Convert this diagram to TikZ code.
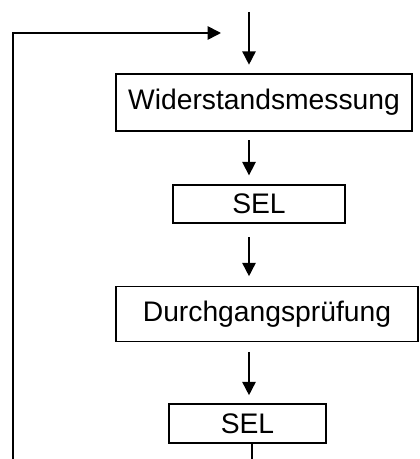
\documentclass[tikz,border=0pt]{standalone}
\usepackage{fontspec}
\setmainfont{Liberation Sans}
\usepackage{tikz}
\usetikzlibrary{arrows.meta,positioning}
\tikzset{
  stepbox/.style={draw=black,line width=1.2pt,inner sep=0pt,font=\fontsize{21.2pt}{25pt}\selectfont},
  widebox/.style={stepbox,minimum height=42.5pt},
  selbox/.style={stepbox,minimum height=28.8pt},
  flowedge/.style={-{Triangle[width=10pt,length=10pt]},line width=1.2pt,black},
  loopedge/.style={line width=1.2pt,black},
}

\begin{document}
\begin{tikzpicture}[x=0.75pt,y=-0.75pt]
  \useasboundingbox (0,0) rectangle (419,459);
  \coordinate (col) at (249,12);
  \coordinate (loopin) at (221,33);
  \coordinate (loopbot) at (13,459);
  \coordinate (outbot) at (252,459);
  \node[widebox,minimum width=222pt] (nW) at (264,102.5) {Widerstandsmessung};
  \node[selbox,minimum width=129pt] (nS1) at (259,204) {SEL};
  \node[widebox,minimum width=226.5pt,minimum height=41.5pt] (nD) at (267,314) {Durchgangsprüfung};
  \node[selbox,minimum width=117.75pt,minimum height=29.25pt] (nS2) at (247.5,423.5) {SEL};
  \draw[flowedge,shorten >=6.5pt] (col) -- (nW.north -| col);
  \draw[flowedge,shorten <=6.5pt,shorten >=6.5pt] (nW.south -| col) -- (nS1.north -| col);
  \draw[flowedge,shorten <=10pt,shorten >=7pt] (nS1.south -| col) -- (nD.north -| col);
  \draw[flowedge,shorten <=7pt,shorten >=6pt] (nD.south -| col) -- (nS2.north -| col);
  \draw[loopedge] (nS2.south -| outbot) -- (outbot);
  \draw[flowedge] (loopbot) |- (loopin);
\end{tikzpicture}
\end{document}
